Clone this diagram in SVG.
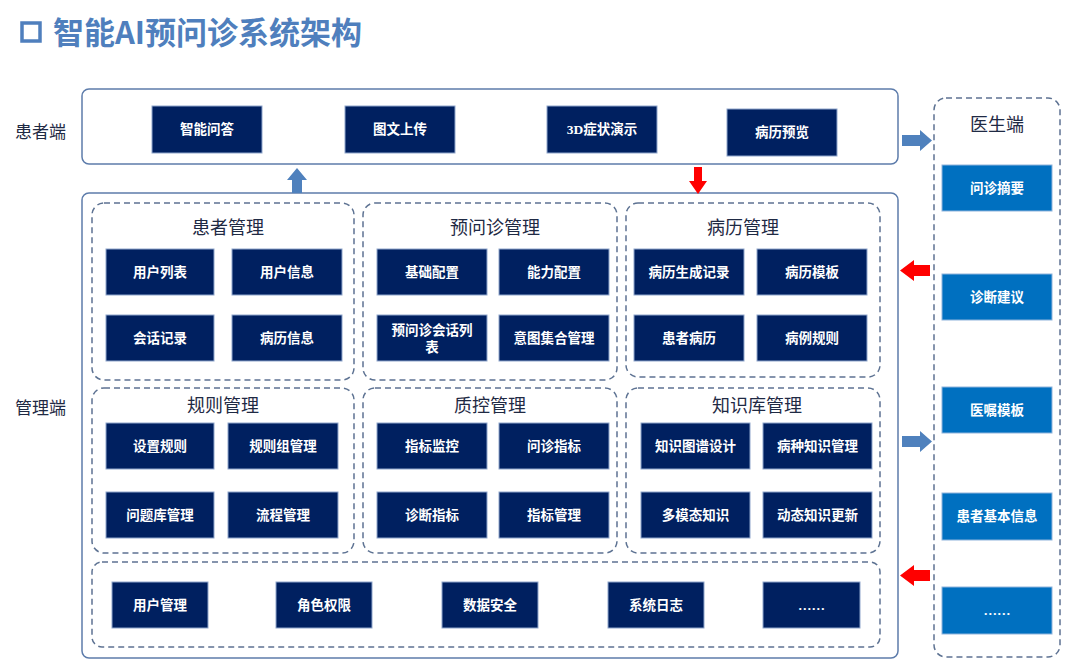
<svg xmlns="http://www.w3.org/2000/svg" width="1080" height="672" viewBox="0 0 1080 672">
<style>
.t{font-family:"Liberation Serif","Noto Sans CJK SC",serif}
.frame{fill:#fff;stroke:#5d7cab;stroke-width:1.5}
.grp{fill:none;stroke:#5d7292;stroke-width:1.5;stroke-dasharray:6 4}
.box rect{fill:#002060;stroke:#8fa6cc;stroke-width:1}
.box text{fill:#fff;font-size:13.5px;font-weight:bold;text-anchor:middle;dominant-baseline:central}
.dbox rect{fill:#0070c0;stroke:#8fb4dc;stroke-width:1}
.dbox text{fill:#fff;font-size:13.5px;font-weight:bold;text-anchor:middle;dominant-baseline:central}
.gt{fill:#1f2a44;font-size:18px;text-anchor:middle;dominant-baseline:central}
.lbl{fill:#1f2a44;font-size:17px;dominant-baseline:central}
.blue{fill:#4f81bd}
.red{fill:#ff0000}
</style>
<rect width="1080" height="672" fill="#fff"/>
<g id="title">
<rect x="22" y="23" width="18" height="18" fill="none" stroke="#4f7fbd" stroke-width="3.5"/>
<text x="53" y="44" class="t" style="font-family:'Noto Sans CJK SC',sans-serif;font-size:31px;font-weight:bold;fill:#4f7fbd">智能AI预问诊系统架构</text>
</g>
<g id="labels">
<text x="15" y="132" class="t lbl">患者端</text>
<text x="15" y="408" class="t lbl">管理端</text>
</g>
<g id="patient-end">
<rect class="frame" x="82" y="89" width="816" height="75" rx="7"/>
<g id="p1" class="box t"><rect x="152" y="106" width="110" height="47"/><text x="207" y="129.5">智能问答</text></g>
<g id="p2" class="box t"><rect x="345" y="106" width="110" height="47"/><text x="400" y="129.5">图文上传</text></g>
<g id="p3" class="box t"><rect x="547" y="106" width="110" height="47"/><text x="602" y="129.5">3D症状演示</text></g>
<g id="p4" class="box t"><rect x="727" y="109" width="110" height="47"/><text x="782" y="132.5">病历预览</text></g>
</g>
<g id="doctor-end">
<rect class="grp" x="934" y="98" width="126" height="559" rx="12"/>
<text x="997" y="125" class="t gt">医生端</text>
<g id="d1" class="dbox t"><rect x="942" y="165" width="110" height="46"/><text x="997" y="188">问诊摘要</text></g>
<g id="d2" class="dbox t"><rect x="942" y="274" width="110" height="46"/><text x="997" y="297">诊断建议</text></g>
<g id="d3" class="dbox t"><rect x="942" y="387" width="110" height="46"/><text x="997" y="410">医嘱模板</text></g>
<g id="d4" class="dbox t"><rect x="942" y="493" width="110" height="47"/><text x="997" y="516.5">患者基本信息</text></g>
<g id="d5" class="dbox t"><rect x="942" y="587" width="110" height="47"/><text x="997" y="610.5">……</text></g>
</g>
<g id="manage-end">
<rect class="frame" x="82" y="193" width="816" height="465" rx="7"/>
<g id="g-patient">
<rect class="grp" x="92" y="203" width="262" height="177" rx="12"/>
<text x="228" y="228" class="t gt">患者管理</text>
<g class="box t"><rect x="106" y="249" width="108" height="46"/><text x="160" y="272">用户列表</text></g>
<g class="box t"><rect x="232" y="249" width="110" height="46"/><text x="287" y="272">用户信息</text></g>
<g class="box t"><rect x="106" y="315" width="108" height="46"/><text x="160" y="338">会话记录</text></g>
<g class="box t"><rect x="232" y="315" width="110" height="46"/><text x="287" y="338">病历信息</text></g>
</g>
<g id="g-preconsult">
<rect class="grp" x="363" y="203" width="254" height="177" rx="12"/>
<text x="495" y="228" class="t gt">预问诊管理</text>
<g class="box t"><rect x="377" y="249" width="110" height="46"/><text x="432" y="272">基础配置</text></g>
<g class="box t"><rect x="499" y="249" width="110" height="46"/><text x="554" y="272">能力配置</text></g>
<g class="box t"><rect x="377" y="315" width="110" height="46"/><text x="432" y="330">预问诊会话列</text><text x="432" y="347">表</text></g>
<g class="box t"><rect x="499" y="315" width="110" height="46"/><text x="554" y="338">意图集合管理</text></g>
</g>
<g id="g-record">
<rect class="grp" x="626" y="203" width="254" height="174" rx="12"/>
<text x="743" y="228" class="t gt">病历管理</text>
<g class="box t"><rect x="634" y="249" width="110" height="46"/><text x="689" y="272">病历生成记录</text></g>
<g class="box t"><rect x="757" y="249" width="110" height="46"/><text x="812" y="272">病历模板</text></g>
<g class="box t"><rect x="634" y="315" width="110" height="46"/><text x="689" y="338">患者病历</text></g>
<g class="box t"><rect x="757" y="315" width="110" height="46"/><text x="812" y="338">病例规则</text></g>
</g>
<g id="g-rule">
<rect class="grp" x="92" y="388" width="262" height="165" rx="12"/>
<text x="223" y="406" class="t gt">规则管理</text>
<g class="box t"><rect x="106" y="423" width="108" height="46"/><text x="160" y="446">设置规则</text></g>
<g class="box t"><rect x="228" y="423" width="110" height="46"/><text x="283" y="446">规则组管理</text></g>
<g class="box t"><rect x="106" y="492" width="108" height="46"/><text x="160" y="515">问题库管理</text></g>
<g class="box t"><rect x="228" y="492" width="110" height="46"/><text x="283" y="515">流程管理</text></g>
</g>
<g id="g-qc">
<rect class="grp" x="363" y="388" width="254" height="165" rx="12"/>
<text x="490" y="406" class="t gt">质控管理</text>
<g class="box t"><rect x="377" y="423" width="110" height="46"/><text x="432" y="446">指标监控</text></g>
<g class="box t"><rect x="499" y="423" width="110" height="46"/><text x="554" y="446">问诊指标</text></g>
<g class="box t"><rect x="377" y="492" width="110" height="46"/><text x="432" y="515">诊断指标</text></g>
<g class="box t"><rect x="499" y="492" width="110" height="46"/><text x="554" y="515">指标管理</text></g>
</g>
<g id="g-kb">
<rect class="grp" x="626" y="388" width="254" height="165" rx="12"/>
<text x="757" y="406" class="t gt">知识库管理</text>
<g class="box t"><rect x="641" y="423" width="109" height="46"/><text x="695.5" y="446">知识图谱设计</text></g>
<g class="box t"><rect x="763" y="423" width="109" height="46"/><text x="817.5" y="446">病种知识管理</text></g>
<g class="box t"><rect x="641" y="492" width="109" height="46"/><text x="695.5" y="515">多模态知识</text></g>
<g class="box t"><rect x="763" y="492" width="109" height="46"/><text x="817.5" y="515">动态知识更新</text></g>
</g>
<g id="g-system">
<rect class="grp" x="92" y="562" width="788" height="85" rx="10"/>
<g class="box t"><rect x="112" y="582" width="96" height="46"/><text x="160" y="605">用户管理</text></g>
<g class="box t"><rect x="276" y="582" width="96" height="46"/><text x="324" y="605">角色权限</text></g>
<g class="box t"><rect x="442" y="582" width="96" height="46"/><text x="490" y="605">数据安全</text></g>
<g class="box t"><rect x="608" y="582" width="96" height="46"/><text x="656" y="605">系统日志</text></g>
<g class="box t"><rect x="763" y="582" width="97" height="46"/><text x="811.5" y="605">……</text></g>
</g>
</g>
<g id="connectors">
<polygon class="blue" points="292,193 292,180 287,180 297,168 307,180 302,180 302,193"/>
<polygon class="red" points="694,167 702,167 702,181 707,181 698,194 689,181 694,181"/>
<polygon class="blue" points="902,135 920,135 920,130 932,140.5 920,151 920,146 902,146"/>
<polygon class="blue" points="902,436 920,436 920,431 932,441.5 920,452 920,447 902,447"/>
<polygon class="red" points="930,265 914,265 914,260 900,270.5 914,281 914,276 930,276"/>
<polygon class="red" points="930,570 914,570 914,565 900,575.5 914,586 914,581 930,581"/>
</g>
</svg>
